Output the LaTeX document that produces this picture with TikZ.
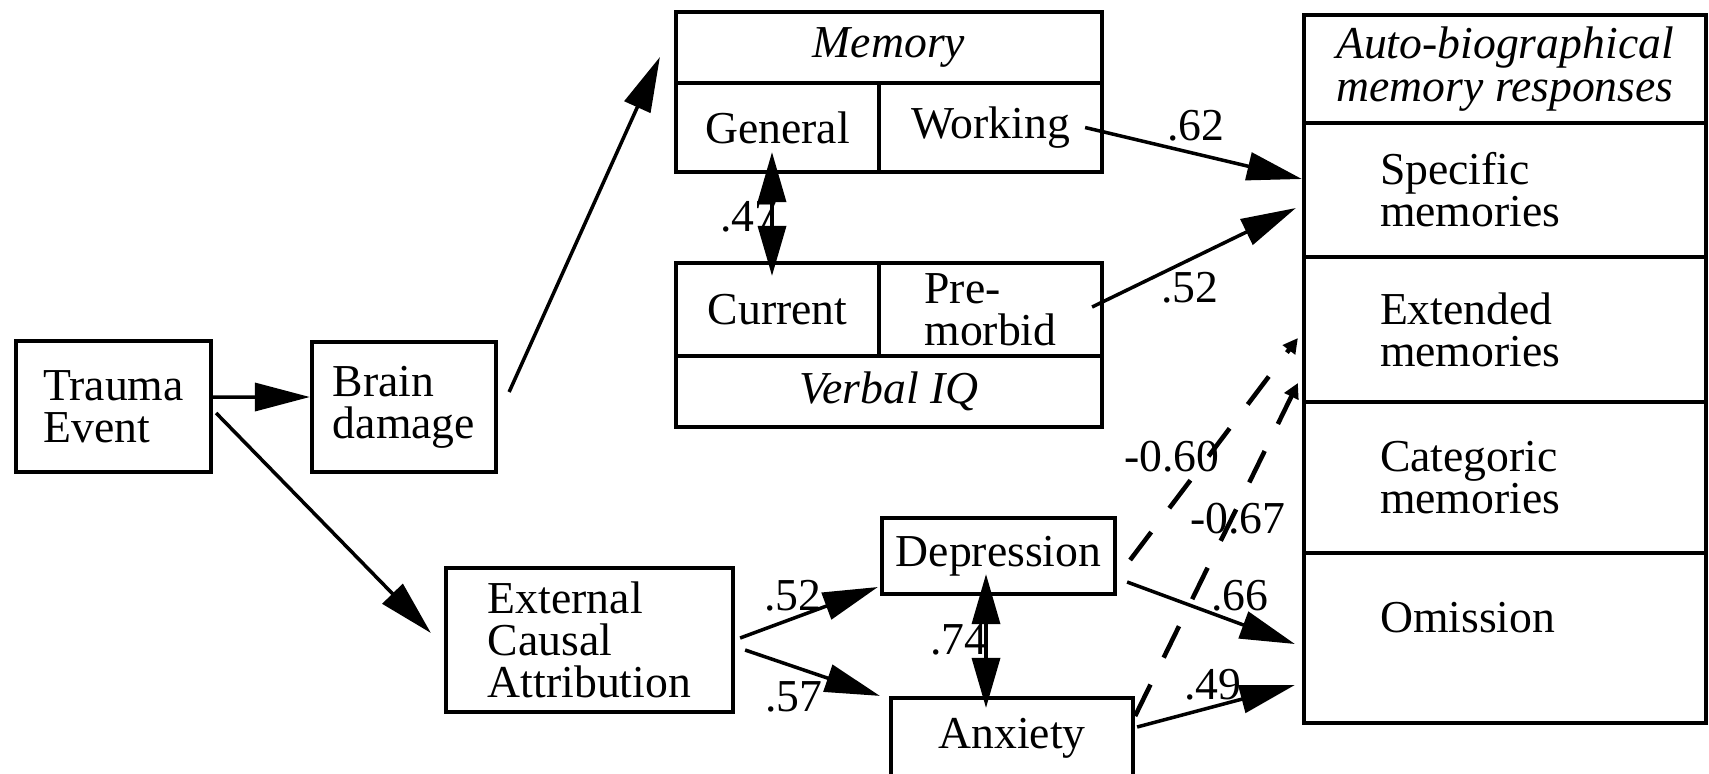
\documentclass[tikz,border=0pt]{standalone}
\usepackage{fontspec}
\setmainfont{Liberation Serif}
\usetikzlibrary{arrows.meta}

\begin{document}
\begin{tikzpicture}
[box/.style={rectangle,draw=black,line width=2.4pt,inner sep=0pt,align=left,font=\fontsize{26}{24}\selectfont},
hdr/.style={box,align=center,font=\fontsize{26}{24}\selectfont\itshape},
resp/.style={box,minimum width=8.04cm,text width=5cm},
coef/.style={inner sep=0pt,font=\fontsize{26}{24}\selectfont},
effect/.style={-{Triangle[length=1.1cm,width=0.56cm]},line width=2pt},
twin/.style={{Triangle[length=1cm,width=0.56cm]}-{Triangle[length=1cm,width=0.56cm]},line width=2pt},
neg/.style={-{Triangle[length=0.3cm,width=0.3cm]},line width=2.6pt,dash pattern=on 0.7cm off 0.6cm}]

\useasboundingbox (0,0) rectangle (34.18,-15.46);
\clip (0,0) rectangle (34.18,-15.46);

\node at (2.27,-8.13)   [box,minimum width=3.90cm,minimum height=2.62cm] (trauma) {Trauma\\Event};
\node at (8.08,-8.14)   [box,minimum width=3.68cm,minimum height=2.60cm] (brain)  {Brain\\damage};

\node at (17.78,-0.95)  [hdr,minimum width=8.52cm,minimum height=1.42cm] (memhd)   {Memory};
\node at (15.55,-2.55)  [box,minimum width=4.06cm,minimum height=1.78cm] (general) {General};
\node at (19.81,-2.55)  [box,minimum width=4.46cm,minimum height=1.78cm] (working) {Working};
\node at (15.55,-6.19)  [box,minimum width=4.06cm,minimum height=1.86cm] (current) {Current};
\node at (19.81,-6.19)  [box,minimum width=4.46cm,minimum height=1.86cm] (premorb) {Pre-\\morbid};
\node at (17.78,-7.83)  [hdr,minimum width=8.52cm,minimum height=1.42cm] (verbiq)  {Verbal IQ};

\node at (11.79,-12.80) [box,minimum width=5.74cm,minimum height=2.88cm] (extern) {External\\Causal\\Attribution};
\node at (19.97,-11.12) [box,minimum width=4.66cm,minimum height=1.52cm] (depr)   {Depression};
\node at (20.24,-14.76) [box,minimum width=4.84cm,minimum height=1.60cm] (anx)    {Anxiety};

\node at (30.10,-1.38)  [hdr,minimum width=8.04cm,minimum height=2.16cm] (autohd) {Auto-biographical\\memory responses};
\node at (30.10,-3.80)  [resp,minimum height=2.68cm] (spec) {Specific\\memories};
\node at (30.10,-6.59)  [resp,minimum height=2.90cm] (extd) {Extended\\memories};
\node at (30.10,-9.55)  [resp,minimum height=3.02cm] (catg) {Categoric\\memories};
\node at (30.10,-12.76) [resp,minimum height=3.40cm] (omis) {Omission\\\mbox{}};

\draw [effect] ([yshift=0.19cm]trauma.east) to ([yshift=0.2cm]brain.west);
\draw [effect] ([shift={(0.06,-0.13)}]trauma.east) to ([shift={(-0.26,0.14)}]extern.west);
\draw [effect] ([shift={(0.22,0.30)}]brain.east) to ([shift={(-0.28,-0.19)}]memhd.west);
\draw [effect] ([shift={(-0.38,0)}]working.east) to ([shift={(0,0.22)}]spec.west);
\draw [effect] ([shift={(-0.24,0.05)}]premorb.east) to ([shift={(-0.12,-0.36)}]spec.west);
\draw [twin] ([shift={(-0.11,0.44)}]general.south) to ([shift={(-0.11,-0.30)}]current.north);

\draw [effect] ([shift={(0.10,0.04)}]extern.east) to ([shift={(-0.04,-0.62)}]depr.west);
\draw [effect] ([shift={(0.20,-0.20)}]extern.east) to ([shift={(-0.18,0)}]anx.north west);
\draw [twin] ([shift={(-0.25,0.44)}]depr.south) to ([shift={(-0.52,-0.24)}]anx.north);
\draw [effect] ([shift={(0.20,-0.52)}]depr.east) to ([shift={(-0.14,-0.12)}]omis.west);
\draw [effect] ([shift={(0.04,0.22)}]anx.east) to ([shift={(-0.14,-0.94)}]omis.west);
\draw [neg] ([shift={(0.26,-0.08)}]depr.east) to ([shift={(-0.08,-0.17)}]extd.west);
\draw [neg] ([shift={(0,0.44)}]anx.east) to ([shift={(-0.08,-1.07)}]extd.west);

\node at (23.92,-2.52)  [coef] (c62)  {.62};
\node at (23.80,-5.76)  [coef] (c52a) {.52};
\node at (14.98,-4.34)  [coef] (c47)  {.47};
\node at (15.86,-11.92) [coef] (c52b) {.52};
\node at (15.88,-13.94) [coef] (c57)  {.57};
\node at (19.18,-12.80) [coef] (c74)  {.74};
\node at (23.44,-9.14)  [coef] (c60)  {-0.60};
\node at (24.76,-10.38) [coef] (c67)  {-0.67};
\node at (24.80,-11.92) [coef] (c66)  {.66};
\node at (24.26,-13.70) [coef] (c49)  {.49};
\end{tikzpicture}
\end{document}
